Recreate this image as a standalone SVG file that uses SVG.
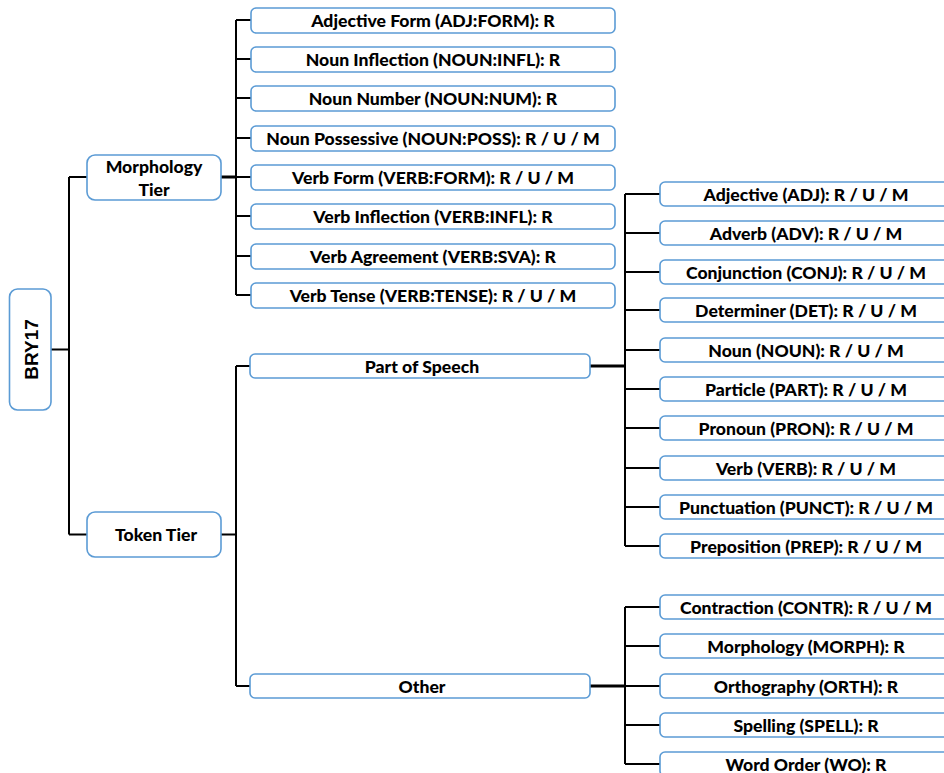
<svg xmlns="http://www.w3.org/2000/svg" width="944" height="773" viewBox="0 0 944 773">
<style>
.box{fill:#ffffff;stroke:#5b9bd5;stroke-width:1.6}
.t{font-family:Lato,"Liberation Sans",sans-serif;font-weight:900;font-size:17.6px;fill:#000;text-anchor:middle;dominant-baseline:central}
.c{fill:none;stroke:#000;stroke-width:2}
.ct{fill:none;stroke:#000;stroke-width:3}
</style>
<rect width="944" height="773" fill="#ffffff"/>
<g id="connectors">
<path class="c" d="M51 349.5H69M69 177V534.5M69 177H87M69 534.5H87"/>
<path class="ct" d="M221 177H236"/>
<path class="c" d="M236 20V295M236 20H251M236 59H251M236 98H251M236 138H251M236 177H251M236 216H251M236 256H251M236 295H251"/>
<path class="c" d="M221 534.5H236M236 366V686M236 366H250M236 686H250"/>
<path class="ct" d="M590 366H625M590 686H625"/>
<path class="c" d="M625 194V546M625 194H660M625 233H660M625 272H660M625 310H660M625 350H660M625 389H660M625 428H660M625 468H660M625 507H660M625 546H660"/>
<path class="c" d="M625 607V764M625 607H660M625 646H660M625 686H660M625 725H660M625 764H660"/>
</g>
<g id="n-bry17"><rect class="box" x="9.5" y="289" width="41.5" height="121" rx="8"/><text class="t" transform="translate(31 349.5) rotate(-90)" style="font-family:'Liberation Sans',Arial,sans-serif;font-weight:bold;font-size:19px">BRY17</text></g>
<g id="n-morph"><rect class="box" x="87" y="155" width="134" height="45" rx="8"/><text class="t" x="154" y="166">Morphology</text><text class="t" x="154" y="189">Tier</text></g>
<g id="n-token"><rect class="box" x="87" y="512" width="134" height="45" rx="8"/><text class="t" x="156" y="534.5">Token Tier</text></g>
<g id="n-adjform"><rect class="box" x="251" y="8" width="364" height="25" rx="5"/><text class="t" x="433" y="20.5">Adjective Form (ADJ:FORM): R</text></g>
<g id="n-nouninfl"><rect class="box" x="251" y="47" width="364" height="25" rx="5"/><text class="t" x="433" y="59.5">Noun Inflection (NOUN:INFL): R</text></g>
<g id="n-nounnum"><rect class="box" x="251" y="86" width="364" height="25" rx="5"/><text class="t" x="433" y="98.5">Noun Number (NOUN:NUM): R</text></g>
<g id="n-nounposs"><rect class="box" x="251" y="126" width="364" height="25" rx="5"/><text class="t" x="433" y="138.5">Noun Possessive (NOUN:POSS): R / U / M</text></g>
<g id="n-verbform"><rect class="box" x="251" y="165" width="364" height="25" rx="5"/><text class="t" x="433" y="177.5">Verb Form (VERB:FORM): R / U / M</text></g>
<g id="n-verbinfl"><rect class="box" x="251" y="204" width="364" height="25" rx="5"/><text class="t" x="433" y="216.5">Verb Inflection (VERB:INFL): R</text></g>
<g id="n-verbsva"><rect class="box" x="251" y="244" width="364" height="25" rx="5"/><text class="t" x="433" y="256.5">Verb Agreement (VERB:SVA): R</text></g>
<g id="n-verbtense"><rect class="box" x="251" y="283" width="364" height="25" rx="5"/><text class="t" x="433" y="295.5">Verb Tense (VERB:TENSE): R / U / M</text></g>
<g id="n-pos"><rect class="box" x="250" y="354" width="340" height="24" rx="5"/><text class="t" x="422" y="366.5">Part of Speech</text></g>
<g id="n-other"><rect class="box" x="250" y="674" width="340" height="24" rx="5"/><text class="t" x="422" y="686.5">Other</text></g>
<g id="n-adj"><rect class="box" x="660" y="182" width="292" height="24" rx="5"/><text class="t" x="806" y="194.5">Adjective (ADJ): R / U / M</text></g>
<g id="n-adv"><rect class="box" x="660" y="221" width="292" height="24" rx="5"/><text class="t" x="806" y="233.5">Adverb (ADV): R / U / M</text></g>
<g id="n-conj"><rect class="box" x="660" y="260" width="292" height="24" rx="5"/><text class="t" x="806" y="272.5">Conjunction (CONJ): R / U / M</text></g>
<g id="n-det"><rect class="box" x="660" y="298" width="292" height="24" rx="5"/><text class="t" x="806" y="310.5">Determiner (DET): R / U / M</text></g>
<g id="n-noun"><rect class="box" x="660" y="338" width="292" height="24" rx="5"/><text class="t" x="806" y="350.5">Noun (NOUN): R / U / M</text></g>
<g id="n-part"><rect class="box" x="660" y="377" width="292" height="24" rx="5"/><text class="t" x="806" y="389.5">Particle (PART): R / U / M</text></g>
<g id="n-pron"><rect class="box" x="660" y="416" width="292" height="24" rx="5"/><text class="t" x="806" y="428.5">Pronoun (PRON): R / U / M</text></g>
<g id="n-verb"><rect class="box" x="660" y="456" width="292" height="24" rx="5"/><text class="t" x="806" y="468.5">Verb (VERB): R / U / M</text></g>
<g id="n-punct"><rect class="box" x="660" y="495" width="292" height="24" rx="5"/><text class="t" x="806" y="507.5">Punctuation (PUNCT): R / U / M</text></g>
<g id="n-prep"><rect class="box" x="660" y="534" width="292" height="24" rx="5"/><text class="t" x="806" y="546.5">Preposition (PREP): R / U / M</text></g>
<g id="n-contr"><rect class="box" x="660" y="595" width="292" height="24" rx="5"/><text class="t" x="806" y="607.5">Contraction (CONTR): R / U / M</text></g>
<g id="n-morph2"><rect class="box" x="660" y="634" width="292" height="24" rx="5"/><text class="t" x="806" y="646.5">Morphology (MORPH): R</text></g>
<g id="n-orth"><rect class="box" x="660" y="674" width="292" height="24" rx="5"/><text class="t" x="806" y="686.5">Orthography (ORTH): R</text></g>
<g id="n-spell"><rect class="box" x="660" y="713" width="292" height="24" rx="5"/><text class="t" x="806" y="725.5">Spelling (SPELL): R</text></g>
<g id="n-wo"><rect class="box" x="660" y="752" width="292" height="24" rx="5"/><text class="t" x="806" y="764.5">Word Order (WO): R</text></g>
</svg>
